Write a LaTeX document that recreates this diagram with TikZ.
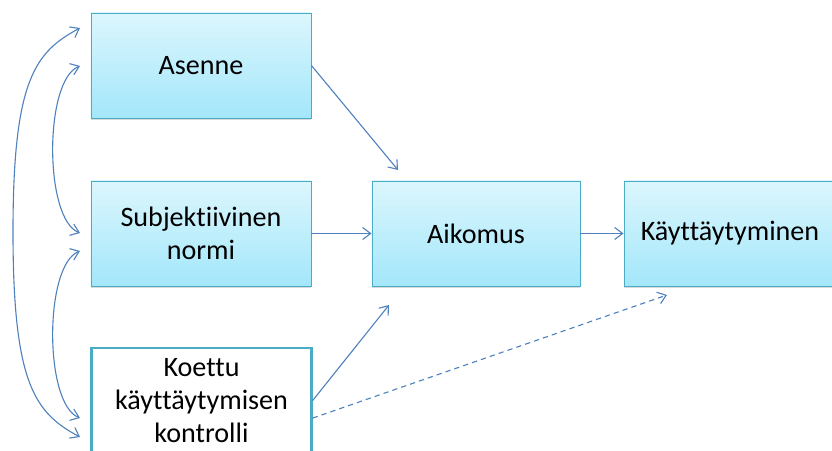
\documentclass[tikz,border=0pt]{standalone}
\usepackage{fontspec}
\setmainfont{Carlito}[Ligatures=NoCommon]
\usepackage{tikz}
\usetikzlibrary{positioning}
\usetikzlibrary{arrows.meta}
\usetikzlibrary{shadows}

\definecolor{sininen}{HTML}{4F81BD}
\definecolor{reuna}{HTML}{4BACC6}
\definecolor{yla}{HTML}{DCF6FD}
\definecolor{ala}{HTML}{A3E7FA}

\begin{document}
\begin{tikzpicture}[x=0.03cm, y=-0.03cm,
    laatikko/.style={draw=reuna, line width=0.8pt, rectangle, align=center,
      top color=yla, bottom color=ala, minimum width=6.6cm, minimum height=3.15cm,
      font=\fontsize{24}{28.5}\selectfont,
      drop shadow={shadow xshift=0pt, shadow yshift=-2pt, opacity=0.3}},
    kontrolli/.style={draw=reuna, line width=2pt, rectangle, align=center,
      fill=white, minimum width=6.6cm, minimum height=3.15cm,
      font=\fontsize{24}{28.5}\selectfont},
    nuoli/.style={draw=sininen, line width=0.95pt, -{Straight Barb[length=2.4mm, width=3.6mm]}},
    kaksi/.style={draw=sininen, line width=0.95pt, {Straight Barb[length=2.4mm, width=3.6mm]}-{Straight Barb[length=2.4mm, width=3.6mm]}}]
    \useasboundingbox (0,0) rectangle (832,451);
    \clip (0,0) rectangle (832,451);

    % Laatikot
    \node[laatikko] (asenne) at (201,65.5) {Asenne};
    \node[laatikko] (normi) at (201,233.5) {Subjektiivinen\\normi};
    \node[kontrolli] (koettu) at (201.5,400.5) {Koettu\\käyttäytymisen\\kontrolli};
    \node[laatikko, minimum width=6.24cm] (aikomus) at (476,233.5) {Aikomus};
    \node[laatikko, minimum width=6.36cm] (kaytos) at (730,233.5) {Käyttäytyminen};

    % Vapaat päät
    \coordinate (a1) at (80,28);
    \coordinate (a2) at (80,66);
    \coordinate (n1) at (80,233);
    \coordinate (n2) at (80,251);
    \coordinate (k1) at (80,418);
    \coordinate (k2) at (80,437);
    \coordinate (aikYla) at (398,170);
    \coordinate (aikAla) at (389,305);
    \coordinate (kayAla) at (667,295);

    % Nuolet
    \draw[kaksi] (a2) .. controls (44,80) and (44,219) .. (n1);
    \draw[kaksi] (n2) .. controls (44,265) and (44,404) .. (k1);
    \draw[kaksi] (a1) .. controls (35,52) and (13,80) .. (13,232)
        .. controls (13,384) and (35,413) .. (k2);
    \draw[nuoli] (asenne.east) -- (aikYla);
    \draw[nuoli] (normi) -- (aikomus);
    \draw[nuoli] (aikomus) -- (kaytos);
    \draw[nuoli] (koettu.east) -- (aikAla);
    \draw[nuoli, dash pattern=on 4.5pt off 3.5pt] (koettu.-9) -- (kayAla);
\end{tikzpicture}
\end{document}
